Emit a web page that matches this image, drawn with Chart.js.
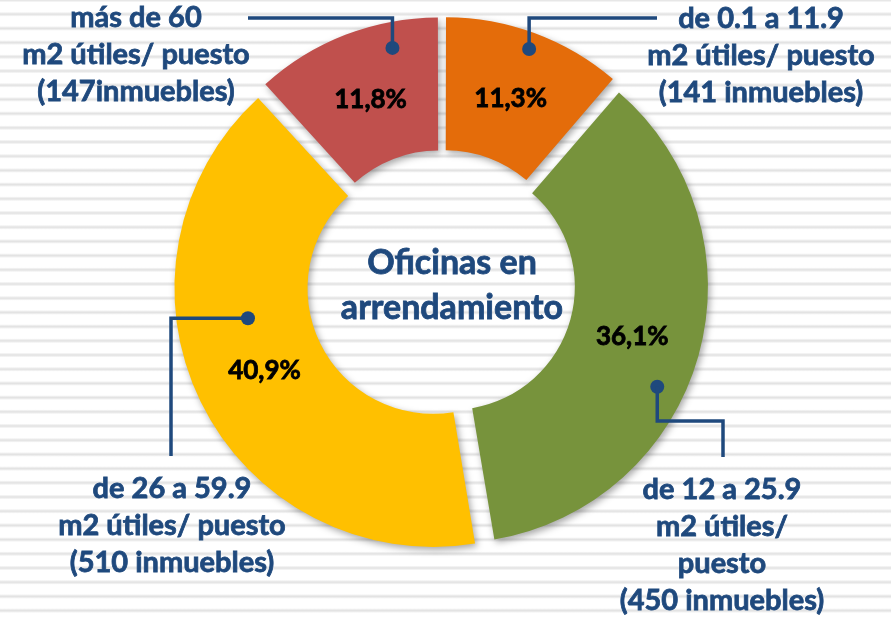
<!DOCTYPE html>
<html>
<head>
<meta charset="utf-8">
<script src="https://cdn.jsdelivr.net/npm/chart.js@4/dist/chart.umd.min.js"></script>
<style>
  html, body { margin: 0; padding: 0; }
  body {
    width: 891px; height: 619px; overflow: hidden;
    background: #fff repeating-linear-gradient(to bottom,
      #e2e2e2 0px, #ececec 1px, #ffffff 2.4px, #ffffff 11.8px, #ececec 13.2px, #e2e2e2 14.2px);
  }
  #wrap { position: relative; width: 891px; height: 619px; }
</style>
</head>
<body>
<div id="wrap"><canvas id="chart" width="891" height="619"></canvas></div>
<script>
// categories in drawing order (clockwise from 12 o'clock)
const categories = ['de 0.1 a 11.9', 'de 12 a 25.9', 'de 26 a 59.9', 'más de 60'];
const inmuebles = [141, 450, 510, 147];
const colors = ['#E46C0A', '#77933C', '#FFC000', '#C0504D'];
const calloutLines = [
    ['de 0.1 a 11.9', 'm2 útiles/ puesto', '(141 inmuebles)'],
    ['de 12 a 25.9', 'm2 útiles/', 'puesto', '(450 inmuebles)'],
    ['de 26 a 59.9', 'm2 útiles/ puesto', '(510 inmuebles)'],
    ['más de 60', 'm2 útiles/ puesto', '(147inmuebles)']
];
const centerTitle = ['Oficinas en', 'arrendamiento'];

const BLUE = '#1F497D';
const FONT = 'Lato, "Open Sans", sans-serif';

// leader lines: dot anchored inside the slice (angle frac, radial frac), then legs
const callouts = [
    {dot: [0.5, 0.90], legs: [{v: 18}, {h: 657}], tx: 761, ty: [19, 56, 93]},
    {dot: [0.58, 0.81], legs: [{v: 421}, {h: 723}, {v: 457}], tx: 722, ty: [490, 527, 564, 601]},
    {dot: [0.614, 0.50], legs: [{h: 171}, {v: 456}], tx: 172, ty: [489, 526, 563]},
    {dot: [0.73, 0.83], legs: [{v: 18}, {h: 248}], tx: 136, ty: [18, 55, 92]}
];

function shift(arc) {
    const half = (arc.startAngle + arc.endAngle) / 2;
    const off = (arc.options.offset || 0) / 4;
    return [Math.cos(half) * off, Math.sin(half) * off];
}

// bold text with a thin outline so it reads as heavy as the original
function heavyText(ctx, t, x, y, color) {
    ctx.fillStyle = color;
    ctx.strokeStyle = color;
    ctx.lineWidth = 0.8;
    ctx.fillText(t, x, y);
    ctx.strokeText(t, x, y);
}

const shadowPlugin = {
    id: 'sliceShadow',
    beforeDatasetDraw(chart) {
        const ctx = chart.ctx;
        ctx.save();
        ctx.shadowColor = 'rgba(0,0,0,0.35)';
        ctx.shadowBlur = 7;
        ctx.shadowOffsetX = 2;
        ctx.shadowOffsetY = 3;
    },
    afterDatasetDraw(chart) {
        chart.ctx.restore();
    }
};

const annotatePlugin = {
    id: 'annotate',
    afterDatasetsDraw(chart) {
        const ctx = chart.ctx;
        const arcs = chart.getDatasetMeta(0).data;
        const total = inmuebles.reduce((a, b) => a + b, 0);
        ctx.save();
        ctx.textAlign = 'center';
        ctx.textBaseline = 'middle';

        arcs.forEach((arc, i) => {
            const [sx, sy] = shift(arc);
            // percentage label
            const mid = (arc.startAngle + arc.endAngle) / 2;
            const mr = (arc.innerRadius + arc.outerRadius) / 2;
            ctx.font = 'bold 26px ' + FONT;
            const pct = (inmuebles[i] / total * 100).toFixed(1).replace('.', ',') + '%';
            heavyText(ctx, pct, arc.x + sx + Math.cos(mid) * mr, arc.y + sy + Math.sin(mid) * mr, '#000');

            // leader line
            const c = callouts[i];
            const a = arc.startAngle + c.dot[0] * (arc.endAngle - arc.startAngle);
            const r = arc.innerRadius + c.dot[1] * (arc.outerRadius - arc.innerRadius);
            let x = arc.x + sx + Math.cos(a) * r;
            let y = arc.y + sy + Math.sin(a) * r;
            ctx.strokeStyle = BLUE;
            ctx.fillStyle = BLUE;
            ctx.lineWidth = 3.5;
            ctx.lineJoin = 'miter';
            ctx.beginPath();
            ctx.arc(x, y, 7, 0, Math.PI * 2);
            ctx.fill();
            ctx.beginPath();
            ctx.moveTo(x, y);
            c.legs.forEach(l => {
                if (l.v !== undefined) y = l.v; else x = l.h;
                ctx.lineTo(x, y);
            });
            ctx.stroke();

            // callout text
            ctx.font = 'bold 29px ' + FONT;
            calloutLines[i].forEach((t, k) => heavyText(ctx, t, c.tx, c.ty[k], BLUE));
        });

        // centre title
        ctx.font = 'bold 34px ' + FONT;
        heavyText(ctx, centerTitle[0], 452, 263, BLUE);
        heavyText(ctx, centerTitle[1], 452, 308, BLUE);
        ctx.restore();
    }
};

new Chart(document.getElementById('chart'), {
    type: 'doughnut',
    data: {
        labels: categories,
        datasets: [{
            data: inmuebles,
            backgroundColor: colors,
            borderWidth: 0,
            offset: 40
        }]
    },
    options: {
        responsive: false,
        animation: false,
        radius: 254,
        cutout: '47.6%',
        layout: {padding: {left: 0, right: 7, top: 0, bottom: 51}},
        plugins: {
            legend: {display: false},
            tooltip: {enabled: false}
        }
    },
    plugins: [shadowPlugin, annotatePlugin]
});
</script>
</body>
</html>
